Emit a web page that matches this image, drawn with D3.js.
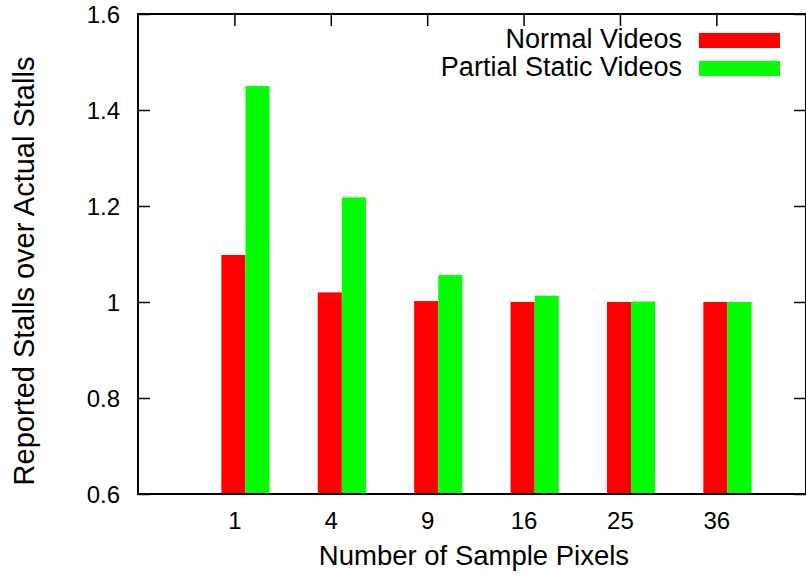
<!DOCTYPE html>
<html>
<head>
<meta charset="utf-8">
<script src="https://cdn.jsdelivr.net/npm/d3@7"></script>
<style>
  body { margin: 0; background: #fff; }
  svg text { font-family: "Liberation Sans", Arial, Helvetica, sans-serif; fill: #000; }
</style>
</head>
<body>
<svg id="chart"></svg>
<script>
// Chart data
const categories = ['1', '4', '9', '16', '25', '36'];
const normalVideos = [1.098, 1.020, 1.002, 1.000, 1.000, 1.000];
const partialStatic = [1.450, 1.218, 1.056, 1.013, 1.001, 1.000];
const yTicks = [0.6, 0.8, 1, 1.2, 1.4, 1.6];

const seriesNames = ['Normal Videos', 'Partial Static Videos'];
const seriesColors = ['#ff0000', '#00ff00'];

// Canvas settings
const WIDTH = 806, HEIGHT = 583;
const LEFT = 138, RIGHT = 806, TOP = 14, BOTTOM = 494;
const TICK = 12;

const svg = d3.select('svg#chart').attr('width', WIDTH).attr('height', HEIGHT);

// Category i sits at position i+1
const x = d3.scaleLinear().domain([0, 6.93]).range([LEFT, RIGHT]);
const y = d3.scaleLinear().domain([0.6, 1.6]).range([BOTTOM, TOP]);

const BAR = x(0.25) - x(0);      // width of one bar
const OFFSETS = [-0.135, 0.115]; // left edge of each series relative to the tick

// Bars
[normalVideos, partialStatic].forEach((vals, s) => {
    svg.append('g').selectAll('rect')
        .data(vals)
        .join('rect')
        .attr('x', (d, i) => x(i + 1 + OFFSETS[s]))
        .attr('y', d => y(d))
        .attr('width', BAR)
        .attr('height', d => y(0.6) - y(d))
        .attr('fill', seriesColors[s]);
});

// Y axis (left) with mirrored ticks on the right
const yAxis = svg.append('g')
    .attr('transform', `translate(${LEFT},0)`)
    .call(d3.axisLeft(y).tickValues(yTicks).tickSizeInner(-TICK).tickSizeOuter(0)
        .tickFormat(d => d3.format('')(+d.toFixed(1))).tickPadding(18));
yAxis.select('.domain').remove();
yAxis.selectAll('line').attr('stroke', '#000').attr('stroke-width', 1.5);
yAxis.selectAll('text').style('font-size', '24px').attr('dy', '0.34em');

const yRight = svg.append('g')
    .attr('transform', `translate(${RIGHT},0)`)
    .call(d3.axisRight(y).tickValues(yTicks).tickSizeInner(-TICK).tickSizeOuter(0).tickFormat(''));
yRight.select('.domain').remove();
yRight.selectAll('line').attr('stroke', '#000').attr('stroke-width', 1.5);

// X axis: labels at bottom, ticks mirrored on top
const xIdx = categories.map((c, i) => i + 1);
const xAxis = svg.append('g')
    .attr('transform', `translate(0,${BOTTOM})`)
    .call(d3.axisBottom(x).tickValues(xIdx).tickSize(0).tickPadding(18)
        .tickFormat(d => categories[d - 1]));
xAxis.select('.domain').remove();
xAxis.selectAll('text').style('font-size', '24px');

const xTop = svg.append('g')
    .attr('transform', `translate(0,${TOP})`)
    .call(d3.axisTop(x).tickValues(xIdx).tickSizeInner(-TICK).tickSizeOuter(0).tickFormat(''));
xTop.select('.domain').remove();
xTop.selectAll('line').attr('stroke', '#000').attr('stroke-width', 1.5);

// Plot border
svg.append('rect')
    .attr('x', LEFT).attr('y', TOP)
    .attr('width', RIGHT - LEFT).attr('height', BOTTOM - TOP)
    .attr('fill', 'none').attr('stroke', '#000').attr('stroke-width', 2);

// Axis titles
svg.append('text')
    .attr('x', 474).attr('y', 565)
    .attr('text-anchor', 'middle')
    .style('font-size', '27.5px')
    .text('Number of Sample Pixels');

svg.append('text')
    .attr('transform', 'translate(34,271) rotate(-90)')
    .attr('text-anchor', 'middle')
    .style('font-size', '29px')
    .text('Reported Stalls over Actual Stalls');

// Legend
const legend = svg.append('g');
seriesNames.forEach((name, s) => {
    const cy = 40 + s * 28;
    legend.append('text')
        .attr('x', 682).attr('y', cy + 8)
        .attr('text-anchor', 'end')
        .style('font-size', '27px')
        .text(name);
    legend.append('rect')
        .attr('x', 699).attr('y', cy - 7)
        .attr('width', 81).attr('height', 15)
        .attr('fill', seriesColors[s]);
});
</script>
</body>
</html>
